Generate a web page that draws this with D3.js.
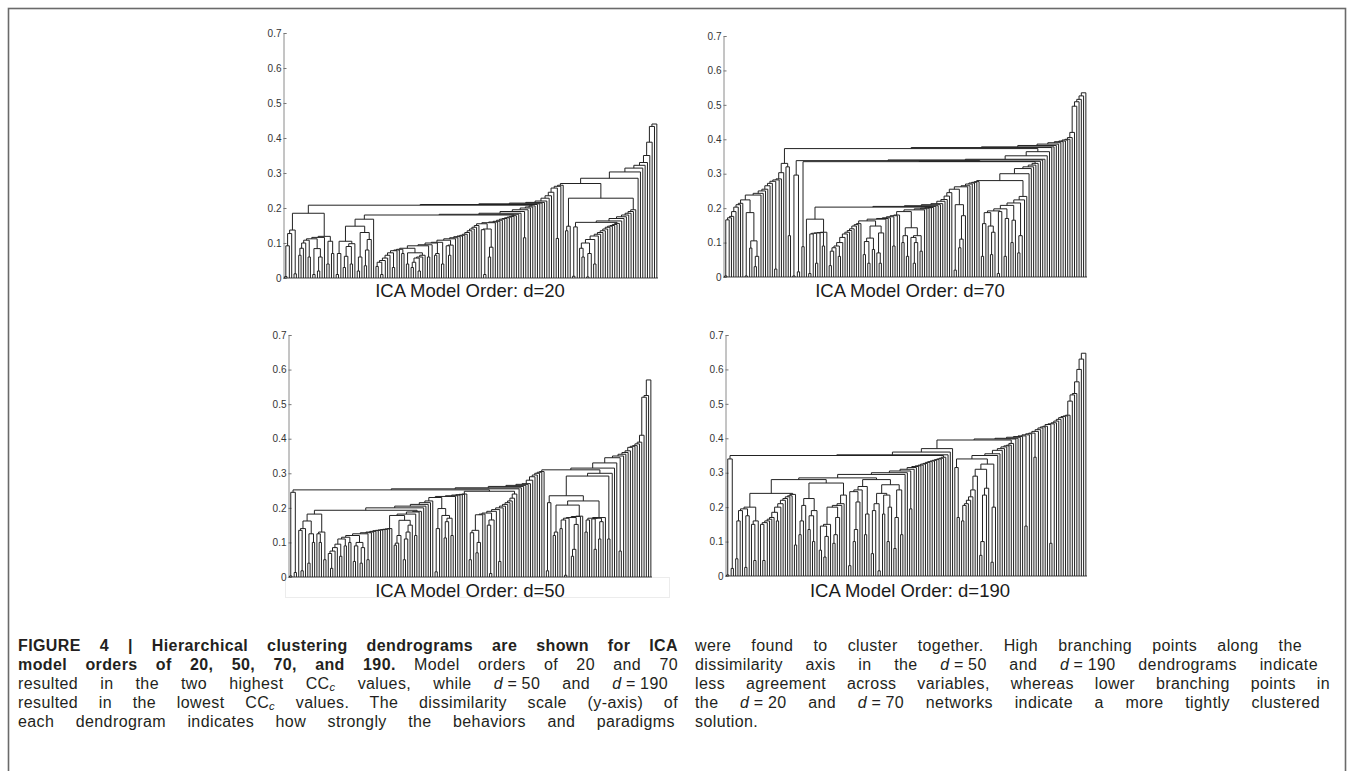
<!DOCTYPE html>
<html><head><meta charset="utf-8">
<script src="https://cdn.jsdelivr.net/npm/d3@7"></script>
<style>
body{margin:0;background:#fff;}
#wrap{position:relative;width:1354px;height:771px;overflow:hidden;background:#fff;}
svg{position:absolute;left:0;top:0;}
.cap{position:absolute;white-space:nowrap;text-align:justify;text-align-last:justify;
 font-family:"Liberation Sans",Arial,sans-serif;letter-spacing:0.4px;
 font-size:16px;line-height:19px;height:19px;color:#231f20;transform-origin:0 50%;}
.cap sub{font-size:70%;vertical-align:-0.2em;line-height:0;}
</style></head>
<body><div id="wrap"><svg id="chart" width="1354" height="771"></svg><div id="caption"></div></div>
<script>
// ---- data: merge height between each pair of adjacent leaves (ordered dendrogram) ----
const leafGapsD20 = [
 0.004,0.092,0.127,0.137,0.012,
 0.185,
 0.065,0.085,0.1,0.108,0.06,0.112,0.01,0.084,0.02,0.06,0.116,0.119,0.04,0.105,0.07,
 0.208,
 0.01,0.07,0.105,0.03,0.062,0.09,0.04,0.098,0.148,0.02,0.06,0.13,0.035,0.08,0.11,0.168,
 0.18,
 0.033,0.045,0.01,0.05,0.057,0.065,0.072,0.03,0.078,0.08,0.082,0.07,0.085,0.04,0.072,0.03,0.045,0.057,0.02,0.06,
 0.065,0.092,0.06,0.095,0.1,0.065,0.07,0.102,0.04,0.108,0.092,0.065,0.094,0.112,0.115,0.118,0.12,0.122,0.125,0.13,
 0.135,0.14,0.145,0.15,0.155,0.138,0.01,0.14,0.06,0.088,0.158,0.16,0.162,0.165,0.168,0.17,0.172,0.174,0.176,0.178,
 0.182,
 0.185,0.19,0.115,0.195,0.2,0.203,0.206,0.21,0.212,0.214,0.216,0.22,0.228,0.235,0.245,0.257,0.113,0.262,0.265,
 0.27,
 0.135,0.148,0.228,0.005,0.146,0.159,
 0.085,0.06,0.1,0.003,0.07,0.11,0.04,0.12,0.125,0.13,0.135,0.14,0.145,0.148,0.15,0.153,0.156,
 0.163,0.17,0.175,0.18,0.185,0.19,0.195,
 0.285,0.303,0.314,0.322,0.33,0.35,0.388,0.433,0.44
];
const leafGapsD70 = [
 0.003,0.166,0.172,0.176,0.19,0.203,0.21,0.214,0.224,0.003,0.187,0.084,0.105,0.03,0.06,0.238,0.243,0.25,0.255,0.265,0.272,0.278,0.023,0.282,0.285,0.303,
 0.33,0.32,0.12,
 0.373,
 0.003,0.296,0.015,0.338,
 0.088,0.335,
 0.168,0.01,0.125,0.127,0.04,0.128,0.129,0.09,0.13,
 0.203,
 0.033,0.075,0.085,0.09,0.06,0.1,0.115,0.125,0.13,0.135,0.14,0.148,0.152,0.155,
 0.163,
 0.065,0.103,0.04,0.113,0.08,0.148,0.07,0.04,0.128,
 0.168,0.17,0.172,0.175,0.09,0.178,0.18,
 0.19,
 0.1,0.12,0.06,0.143,0.115,0.04,0.1,0.12,0.075,
 0.195,0.198,0.2,0.201,0.202,
 0.205,0.207,0.21,0.213,0.22,0.225,0.235,0.245,
 0.255,
 0.02,0.21,0.085,0.11,0.178,
 0.262,0.265,0.27,0.273,0.275,0.277,
 0.28,
 0.06,0.155,0.187,0.148,0.065,0.13,0.192,0.01,0.19,0.198,0.06,0.17,0.208,0.1,0.165,0.215,0.07,0.12,0.224,0.234,
 0.3,0.315,0.32,0.325,0.33,
 0.336,0.34,0.342,0.352,0.364,0.376,0.378,0.382,0.386,0.39,0.393,0.395,0.398,0.4,0.405,0.42,0.496,0.509,0.516,0.526,0.535
];
const leafGapsD50 = [
 0.003,0.245,0.013,0.252,
 0.135,0.018,0.14,0.162,0.04,0.125,0.1,0.182,0.125,0.1,0.13,0.05,
 0.193,
 0.068,0.025,0.075,0.085,0.095,0.06,0.11,0.09,0.115,0.1,0.12,0.045,0.09,0.1,0.04,0.085,0.125,0.05,0.128,0.13,
 0.132,0.134,0.135,0.136,0.137,0.138,0.139,0.14,
 0.178,
 0.092,0.098,0.12,0.164,0.05,0.11,0.13,0.15,
 0.182,0.12,0.188,0.19,
 0.2,0.205,0.21,0.215,0.22,0.23,
 0.015,0.14,0.198,0.178,0.113,0.16,0.17,0.12,
 0.233,0.235,0.237,0.238,0.239,0.24,
 0.248,
 0.05,0.128,0.135,0.07,0.1,0.18,0.182,0.185,0.15,0.01,0.165,0.19,0.195,0.045,0.2,0.205,0.21,0.215,0.22,0.228,0.24,
 0.255,0.258,0.262,0.265,0.268,0.27,0.28,0.29,0.295,0.3,0.303,0.305,
 0.31,
 0.018,0.215,0.235,
 0.12,0.13,0.208,0.14,0.165,0.005,0.17,0.172,0.06,0.08,0.152,0.175,0.176,0.22,0.13,0.165,0.17,0.168,0.08,0.17,0.11,0.16,0.172,
 0.292,0.11,0.3,
 0.315,0.33,0.345,0.075,0.35,0.355,0.36,0.365,0.375,0.378,0.38,0.385,0.39,0.41,0.52,0.525,0.57
];
const leafGapsD190 = [
 0.003,0.34,0.022,0.35,
 0.05,0.16,0.19,0.195,0.025,0.175,0.2,0.15,0.045,0.16,
 0.24,
 0.15,0.045,0.155,0.16,0.165,0.17,0.185,0.16,0.2,0.21,0.22,0.225,0.23,0.233,0.237,0.09,
 0.28,
 0.12,0.16,0.205,0.225,0.135,0.175,0.1,0.19,
 0.27,
 0.075,0.145,0.055,0.115,0.15,0.2,0.095,0.12,0.17,0.205,0.21,0.235,
 0.285,
 0.03,0.245,0.1,0.135,0.215,0.25,0.26,0.12,0.18,
 0.28,
 0.065,0.19,0.21,0.015,0.24,0.18,0.235,0.1,0.2,0.265,0.08,0.17,0.25,0.12,
 0.295,0.3,0.305,0.195,0.31,0.315,0.318,0.32,0.322,0.325,0.327,0.33,0.332,0.334,0.336,0.338,0.34,0.342,0.345,
 0.352,0.36,0.37,
 0.395,
 0.315,0.17,0.34,
 0.16,0.205,0.21,0.22,0.23,0.25,0.29,0.31,0.06,0.1,0.235,0.255,0.325,0.04,0.2,
 0.35,0.355,0.365,0.37,0.375,0.378,0.38,0.385,
 0.398,0.4,0.403,0.405,0.407,0.145,0.41,0.413,0.415,0.345,0.42,0.425,0.43,0.433,0.435,0.44,0.095,0.442,0.445,0.45,0.455,0.46,0.463,0.465,0.467,
 0.508,0.526,0.53,0.564,0.6,0.63,0.647
];
const panelLabels = ["ICA Model Order: d=20","ICA Model Order: d=70","ICA Model Order: d=50","ICA Model Order: d=190"];
const yTickValues = [0,0.1,0.2,0.3,0.4,0.5,0.6,0.7];
const yTickLabels = ["0","0.1","0.2","0.3","0.4","0.5","0.6","0.7"];

// ---- layout ----
const panels = [
 {gaps:leafGapsD20, label:panelLabels[0], x0:283.5, x1:658, yB:278, yT:33, tx:470, ty:297},
 {gaps:leafGapsD70, label:panelLabels[1], x0:723.5, x1:1087, yB:277, yT:36, tx:910, ty:297},
 {gaps:leafGapsD50, label:panelLabels[2], x0:288.5, x1:652, yB:577, yT:335, tx:470, ty:597},
 {gaps:leafGapsD190, label:panelLabels[3], x0:725.5, x1:1087, yB:576, yT:335, tx:910, ty:597}
];

const svg = d3.select("#chart");
svg.append("rect").attr("x",8.5).attr("y",8.5).attr("width",1337).attr("height",820)
  .attr("fill","none").attr("stroke","#6a6a6a").attr("stroke-width",1.6);
svg.append("rect").attr("x",285.5).attr("y",577.5).attr("width",384).attr("height",20)
  .attr("fill","none").attr("stroke","#ececec").attr("stroke-width",1);

function buildTree(g,a,b){
  if(a===b) return {leaf:a,h:0};
  let k=a; for(let i=a;i<b;i++) if(g[i]>g[k]) k=i;
  return {h:g[k], left:buildTree(g,a,k), right:buildTree(g,k+1,b)};
}

panels.forEach(p=>{
  const N = p.gaps.length+1;
  const x = d3.scaleLinear().domain([0,N]).range([p.x0,p.x1]);
  const y = d3.scaleLinear().domain([0,0.7]).range([p.yB,p.yT]);
  const g = svg.append("g");
  const root = buildTree(p.gaps,0,N-1);
  const nodes=[];
  (function walk(n){
    if(n.leaf!==undefined){ n.x=x(n.leaf+0.5); return; }
    walk(n.left); walk(n.right); n.x=(n.left.x+n.right.x)/2; nodes.push(n);
  })(root);
  const ax = d3.axisLeft(y).tickValues(yTickValues).tickFormat((d,i)=>yTickLabels[i]).tickSize(-3).tickPadding(2);
  const axg = g.append("g").attr("transform",`translate(${p.x0},0)`).call(ax);
  axg.select(".domain").attr("stroke","#8a8a8a").attr("stroke-width",1);
  axg.selectAll(".tick line").attr("stroke","#777");
  axg.selectAll(".tick text").attr("fill","#333").style("font-family","'Liberation Sans',Arial,sans-serif").style("font-size","10px");
  g.append("line").attr("x1",p.x0).attr("x2",p.x1).attr("y1",y(0)).attr("y2",y(0)).attr("stroke","#444").attr("stroke-width",1);
  g.append("g").selectAll("path").data(nodes).join("path")
    .attr("d",n=>`M${n.left.x},${y(n.left.h)}V${y(n.h)}H${n.right.x}V${y(n.right.h)}`)
    .attr("fill","none").attr("stroke","#222").attr("stroke-width",1);
  g.append("text").attr("x",p.tx).attr("y",p.ty).attr("text-anchor","middle")
    .style("font-family","'Liberation Sans',Arial,sans-serif").style("font-size","18.5px").attr("fill","#1a1a1a").text(p.label);
});

// ---- caption ----
const eq = (v)=>`<i>d</i>\u2005=\u2005${v}`;
const CCc = `CC<sub><i>c</i></sub>`;
const capLines = [
 {x:18,y:636,w:660,h:`<b>FIGURE 4 | Hierarchical clustering dendrograms are shown for ICA</b>`},
 {x:18,y:655,w:660,h:`<b>model orders of 20, 50, 70, and 190.</b> Model orders of 20 and 70`},
 {x:18,y:674,w:650,h:`resulted in the two highest ${CCc} values, while ${eq(50)} and ${eq(190)}`},
 {x:18,y:693,w:660,h:`resulted in the lowest ${CCc} values. The dissimilarity scale (y-axis) of`},
 {x:18,y:712,w:657,h:`each dendrogram indicates how strongly the behaviors and paradigms`},
 {x:695,y:636,w:607,h:`were found to cluster together. High branching points along the`},
 {x:695,y:655,w:623,h:`dissimilarity axis in the ${eq(50)} and ${eq(190)} dendrograms indicate`},
 {x:695,y:674,w:635,h:`less agreement across variables, whereas lower branching points in`},
 {x:695,y:693,w:625,h:`the ${eq(20)} and ${eq(70)} networks indicate a more tightly clustered`},
 {x:695,y:712,w:null,h:`solution.`}
];
const cap = d3.select("#caption");
capLines.forEach(l=>{
  const d = cap.append("div").attr("class","cap").style("left",l.x+"px").style("top",l.y+"px").html(l.h);
  if(l.w){ d.style("width",l.w+"px"); }
  else { d.style("text-align","left").style("text-align-last","left"); }
  const el=d.node();
  if(l.w && el.scrollWidth>l.w+0.5){ d.style("transform",`scaleX(${l.w/el.scrollWidth})`).style("width",el.scrollWidth+"px"); }
});
</script></body></html>
